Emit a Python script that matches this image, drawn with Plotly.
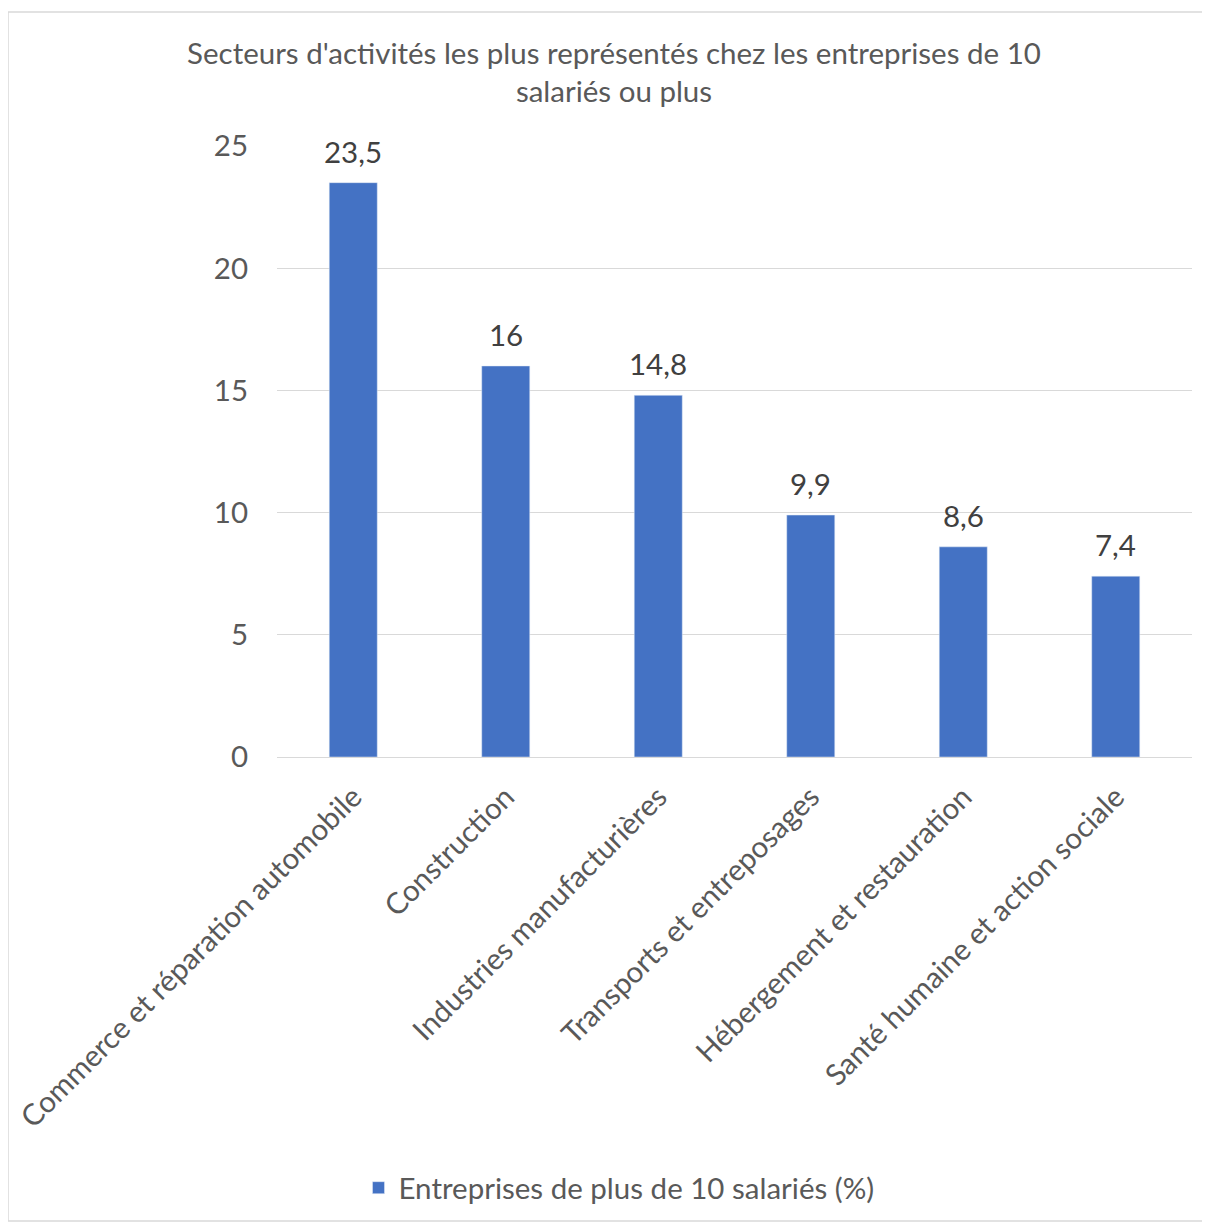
import plotly.graph_objects as go

categories = ["Commerce et réparation automobile", "Construction", "Industries manufacturières",
              "Transports et entreposages", "Hébergement et restauration", "Santé humaine et action sociale"]
values = [23.5, 16, 14.8, 9.9, 8.6, 7.4]
value_labels = ["23,5", "16", "14,8", "9,9", "8,6", "7,4"]
series_name = "Entreprises de plus de 10 salariés (%)"
title_text = "Secteurs d'activités les plus représentés chez les entreprises de 10<br>salariés ou plus"

FONT = "Lato, Carlito, Calibri, sans-serif"
FS = 29.5
OFF = 8  # page body margin
W, H = 1210 - OFF, 1223 - OFF
L, R, T, B = 277 - OFF, 1210 - 1192, 146 - OFF, 1223 - 757
pw, ph = W - L - R, H - T - B

def px_x(x):
    return (x - OFF - L) / pw

def px_y(y):
    return (H - B - (y - OFF)) / ph

fig = go.Figure()
fig.add_trace(go.Bar(
    x=categories, y=values, name=series_name,
    marker_color="#4472C4",
))
for c, v, t in zip(categories, values, value_labels):
    fig.add_annotation(x=c, y=v, text=t, showarrow=False, yanchor="bottom", yshift=12,
                       font=dict(size=FS, color="#404040", family=FONT))

fig.update_layout(
    width=W, height=H,
    margin=dict(l=L, r=R, t=T, b=B, autoexpand=False),
    paper_bgcolor="white", plot_bgcolor="white",
    bargap=0.685,
    showlegend=True,
    title=dict(text=title_text, x=px_x(614), xref="paper", xanchor="center",
               y=1 - (64 - OFF) / H, yref="container", yanchor="middle",
               font=dict(size=FS, color="#595959", family=FONT)),
    legend=dict(orientation="h", x=px_x(619), xanchor="center", y=px_y(1188), yanchor="middle",
                font=dict(size=FS, color="#595959", family=FONT)),
    xaxis=dict(tickangle=-45, tickfont=dict(size=FS, color="#595959", family=FONT),
               showline=True, linecolor="#d9d9d9", linewidth=1, ticks="", automargin=False,
               ticklabelstandoff=10),
    yaxis=dict(range=[0, 25], dtick=5, showgrid=True, gridcolor="#d9d9d9", zeroline=False,
               tickfont=dict(size=FS, color="#595959", family=FONT), ticks="", ticklabelstandoff=28,
               automargin=False),
    shapes=[dict(type="rect", xref="paper", yref="paper",
                 x0=px_x(8), x1=px_x(1203), y0=px_y(1221), y1=px_y(12),
                 line=dict(color="#d9d9d9", width=1.5), fillcolor="rgba(0,0,0,0)", layer="below")],
)

fig.write_html("out.html")
